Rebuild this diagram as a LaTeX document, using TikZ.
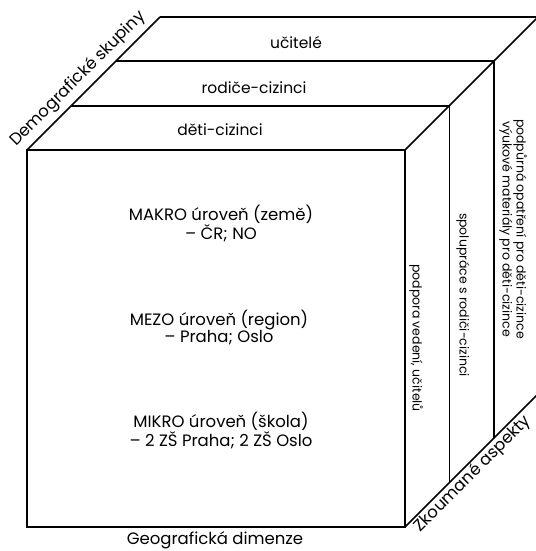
\documentclass[tikz,border=0pt]{standalone}
\usepackage{fontspec}
\setmainfont{Poppins}
\begin{document}
\begin{tikzpicture}[x=1pt,y=-1pt,
  edge/.style={line width=1.6pt,line join=miter},
  lbl/.style={font=\fontsize{16.5}{17}\selectfont,align=center,inner sep=0pt},
  toplbl/.style={font=\fontsize{15.5}{17}\selectfont,align=center,inner sep=0pt},
  vlbl/.style={font=\fontsize{12.5}{11}\selectfont,align=center,inner sep=0pt,rotate=-90}]
\useasboundingbox (0,0) rectangle (535,551);
% front face corners
\coordinate (ftl) at (27,150);
\coordinate (ftr) at (405,150);
\coordinate (fbl) at (27,527);
\coordinate (fbr) at (405,527);
% layer corners
\coordinate (l1) at (71.3,105.7);
\coordinate (l2) at (115.7,61.3);
\coordinate (l3) at (160,17);
\coordinate (r1) at (449.3,105.7);
\coordinate (r2) at (493.7,61.3);
\coordinate (r3) at (538,17);
\coordinate (b1) at (449.3,482.7);
\coordinate (b2) at (493.7,438.3);
\coordinate (b3) at (538,394);
% front face
\draw[edge] (ftl) rectangle (fbr);
% top slabs
\draw[edge] (l1) -- (r1);
\draw[edge] (l2) -- (r2);
\draw[edge] (l3) -- (r3);
\draw[edge] (ftl) -- (l3);
\draw[edge] (ftr) -- (r3);
% right slabs
\draw[edge] (r1) -- (b1);
\draw[edge] (r2) -- (b2);
\draw[edge] (fbr) -- (b3);
% front texts
\node[lbl] (makro) at (221,223) {MAKRO úroveň (země)\\– ČR; NO};
\node[lbl] (mezo) at (219,327) {MEZO úroveň (region)\\– Praha; Oslo};
\node[lbl] (mikro) at (221,430) {MIKRO úroveň (škola)\\– 2 ZŠ Praha; 2 ZŠ Oslo};
% top texts
\node[toplbl] (ucitele) at (296,43) {učitelé};
\node[toplbl] (rodice) at (254,88) {rodiče-cizinci};
\node[toplbl] (deti) at (220,130) {děti-cizinci};
% right texts
\node[vlbl] (podpora) at (416,338) {podpora vedení, učitelů};
\node[vlbl] (spoluprace) at (463,295) {spolupráce s rodiči-cizinci};
\node[vlbl] (podpurna) at (513,229) {podpůrná opatření pro děti-cizince\\výukové materiály pro děti-cizince};
% axis labels
\node[lbl,rotate=45] (demo) at (78,79) {Demografické skupiny};
\node[lbl,rotate=45] (zkoum) at (473,474) {Zkoumané aspekty};
\node[lbl] (geo) at (215,540) {Geografická dimenze};
\end{tikzpicture}
\end{document}
